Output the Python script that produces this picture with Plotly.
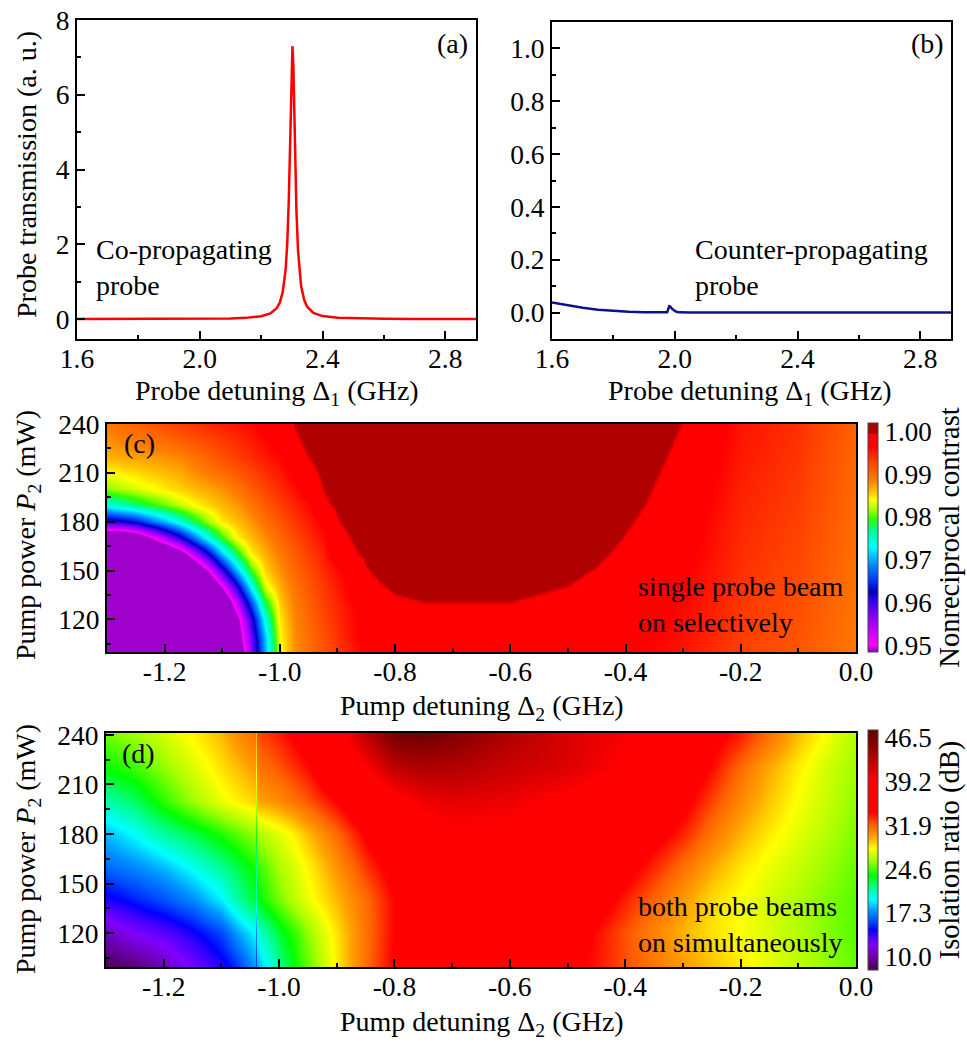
import plotly.graph_objects as go

W, H = 967, 1044
FONT = "'Liberation Serif', 'Times New Roman', Times, serif"

# ---------------- panel (a): co-propagating probe ----------------
a_x = [1.6, 1.7, 1.8, 1.9, 2.0, 2.1, 2.15, 2.2, 2.23, 2.25, 2.26, 2.27, 2.28, 2.285, 2.29,
       2.295, 2.3, 2.302, 2.305, 2.31, 2.315, 2.32, 2.33, 2.34, 2.35, 2.37, 2.4, 2.45, 2.5,
       2.6, 2.7, 2.8, 2.9]
a_y = [0.002, 0.003, 0.004, 0.006, 0.009, 0.02, 0.035, 0.077, 0.152, 0.286, 0.429, 0.709,
       1.354, 2.016, 3.166, 5.055, 7.046, 7.3, 6.75, 4.62, 2.88, 1.853, 0.9, 0.518, 0.333,
       0.17, 0.083, 0.037, 0.021, 0.009, 0.005, 0.003, 0.002]

# ---------------- panel (b): counter-propagating probe ----------------
b_x = [1.6, 1.65, 1.7, 1.75, 1.8, 1.85, 1.9, 1.95, 1.975, 1.982, 1.986, 1.99, 1.995, 2.0,
       2.008, 2.016, 2.05, 2.2, 2.5, 2.9]
b_y = [0.038, 0.027, 0.018, 0.011, 0.006, 0.003, 0.0015, 0.001, 0.001, 0.024, 0.022, 0.016,
       0.010, 0.006, 0.002, 0.0008, 0.0005, 0.0003, 0.0002, 0.0001]

# ---------------- panel (c): nonreciprocal contrast ----------------
c_det = [-1.3, -1.275, -1.25, -1.225, -1.2, -1.175, -1.15, -1.125, -1.1, -1.075, -1.05, -1.025,
         -1.0, -0.975, -0.95, -0.925, -0.9, -0.85, -0.8, -0.75, -0.7, -0.6, -0.5, -0.45, -0.4,
         -0.35, -0.3, -0.2, -0.1, 0.0]
c_pow = [100, 110, 120, 130, 140, 150, 160, 170, 180, 190, 200, 220, 240]
c_contrast = [
    [.940, .940, .940, .940, .940, .940, .940, .940, .940, .943, .9562, .9701, .9835, .9877, .9897,
     .9916, .9934, .9967, .9975, .9975, .9975, .9975, .9975, .9975, .9970, .9962, .9955, .9930, .9915, .9890],
    [.940, .940, .940, .940, .940, .940, .940, .940, .940, .94556, .95771, .97112, .98408, .98787, .98995,
     .99196, .99379, .9975, .9975, .9975, .9975, .9975, .9975, .9975, .997, .99661, .99578, .99318, .99168, .98911],
    [.940, .940, .940, .940, .940, .940, .940, .940, .940, .9477, .9605, .9740, .9847, .9882, .9903,
     .9924, .9942, .9975, .9985, .99882, .99882, .99882, .99814, .9975, .9975, .9970, .9959, .9934, .9919, .9892],
    [.940, .940, .940, .940, .940, .940, .940, .940, .9411, .9534, .96595, .97815, .9856, .9886, .99077,
     .99294, .99463, .99798, .99914, .99947, .99947, .99947, .9988, .99802, .9975, .99744, .99634, .99354, .99204, .98932],
    [.940, .940, .940, .940, .940, .940, .940, .940, .9496, .9611, .9731, .9830, .9867, .9892, .9914,
     .9934, .9951, .99888, .99979, 1.00012, 1.00012, 1.00012, .99945, .99866, .9975, .9975, .99661, .99371, .99221, .98943],
    [.940, .940, .940, .940, .940, .940, .940, .94942, .95977, .9704, .97938, .9852, .98785, .99008, .99227,
     .99412, .9958, .99934, 1.00044, 1.00077, 1.00077, 1.00077, 1.0001, .99931, .99814, .9975, .99689, .99389, .99239, .98954],
    [.940, .940, .940, .940, .940, .94454, .95315, .96176, .97085, .97831, .9844, .98667, .9889, .99104, .99315,
     .99482, .99866, .9998, 1.00094, 1.00142, 1.00142, 1.00142, 1.00074, .99996, .99886, .9977, .99717, .99407, .99257, .98964],
    [.940, .940, .94286, .9487, .95456, .96041, .96706, .97379, .97919, .98421, .98612, .98803, .99014, .99225, .99408,
     .99575, .9989, 1.00017, 1.0013, 1.0015, 1.0015, 1.0015, 1.00138, 1.0005, .99936, .99822, .99745, .99425, .99275, .98975],
    [.960, .96117, .96303, .9666, .97019, .97382, .97763, .98143, .98451, .98605, .9876, .98949, .99152, .99344, .99506,
     .99698, .99938, 1.00054, 1.0015, 1.0015, 1.0015, 1.0015, 1.0015, 1.00094, .9998, .99866, .9975, .99443, .99293, .98986],
    [.974, .97567, .97733, .97899, .98065, .98232, .98398, .98517, .98636, .98755, .9892, .99113, .99305, .99458, .9961,
     .99918, .99975, 1.0009, 1.0015, 1.0015, 1.0015, 1.0015, 1.0015, 1.00142, 1.00026, .99911, .99796, .99461, .99311, .98996],
    [.9812, .98206, .98292, .98378, .98459, .98539, .98619, .98698, .98778, .98928, .99102, .99277, .99425, .99569, .99838,
     .9995, 1.00008, 1.00122, 1.0015, 1.0015, 1.0015, 1.0015, 1.0015, 1.0015, 1.00058, .99943, .99828, .99479, .99329, .99007],
    [.9866, .9869, .9872, .9875, .9878, .9882, .9894, .9907, .9919, .9931, .9942, .9952, .99631, .99895, .99952,
     1.0001, 1.00066, 1.0015, 1.0015, 1.0015, 1.0015, 1.0015, 1.0015, 1.0015, 1.00118, 1.00003, .99884, .99514, .99364, .99029],
    [.989, .98985, .99069, .99154, .99238, .99316, .99373, .99431, .99489, .99547, .99605, .99743, .99895, .99952, 1.0001,
     1.00066, 1.00126, 1.0015, 1.0015, 1.0015, 1.0015, 1.0015, 1.0015, 1.0015, 1.0015, 1.00058, .99943, .9955, .9940, .9905],
]
c_cbar_ticks = [0.95, 0.96, 0.97, 0.98, 0.99, 1.00]
c_cbar_text = ["0.95", "0.96", "0.97", "0.98", "0.99", "1.00"]

# ---------------- panel (d): isolation ratio ----------------
d_det = [-1.3, -1.25, -1.2, -1.15, -1.1, -1.075, -1.042, -1.04, -1.038, -1.0, -0.975, -0.95, -0.9,
         -0.85, -0.8, -0.75, -0.7, -0.6, -0.5, -0.45, -0.4, -0.35, -0.3, -0.25, -0.2, -0.15, -0.1,
         -0.05, 0.0]
d_pow = [100, 120, 140, 160, 180, 200, 220, 240]
d_isolation = [
    [8.0, 9.0, 10.4, 12.3, 13.9, 15.3, 17.7, 15.5, 18.1, 21.3, 23.5, 25.0, 28.4, 31.6, 34.2, 35.5, 36.3,
     36.5, 34.6, 33.6, 32.4, 31.3, 30.2, 29.3, 28.4, 27.5, 26.6, 25.8, 25.0],
    [10.5, 12.0, 12.9, 14.2, 15.8, 17.6, 19.5, 17.2, 19.9, 22.8, 24.2, 25.8, 28.6, 31.5, 34.0, 35.6, 36.6,
     37.0, 35.4, 33.8, 32.3, 30.9, 29.6, 28.6, 27.9, 27.2, 26.4, 25.6, 24.8],
    [14.0, 15.0, 16.0, 17.3, 19.2, 21.0, 22.8, 20.5, 23.2, 25.3, 26.6, 27.6, 29.5, 31.6, 34.0, 35.8, 37.0,
     37.6, 36.5, 35.0, 33.4, 31.8, 30.2, 28.7, 27.9, 27.1, 26.3, 25.5, 24.8],
    [16.6, 17.3, 18.3, 19.8, 21.4, 22.4, 23.8, 21.5, 24.2, 26.2, 27.2, 28.2, 30.4, 32.9, 34.8, 36.5, 38.0,
     38.5, 37.3, 36.0, 34.8, 33.2, 31.5, 29.8, 28.5, 27.6, 26.8, 25.9, 25.1],
    [18.3, 19.6, 21.2, 22.5, 23.9, 24.8, 25.8, 23.5, 26.3, 27.3, 28.3, 29.4, 31.7, 34.3, 36.3, 38.0, 39.2,
     39.0, 37.8, 36.8, 35.8, 34.8, 33.3, 31.3, 29.6, 28.4, 27.4, 26.4, 25.4],
    [21.0, 22.2, 24.2, 26.0, 27.6, 28.2, 28.9, 26.8, 29.8, 30.6, 31.4, 32.2, 34.1, 36.3, 38.5, 40.3, 40.8,
     40.3, 39.0, 38.0, 37.0, 36.0, 34.6, 32.6, 30.7, 29.2, 27.9, 26.8, 25.7],
    [23.5, 24.4, 25.8, 27.2, 28.6, 29.3, 30.2, 28.2, 31.2, 32.2, 33.0, 33.8, 36.5, 39.5, 42.5, 43.3, 43.2,
     42.0, 41.0, 40.2, 39.2, 37.6, 35.6, 33.8, 31.6, 29.8, 28.3, 27.0, 26.0],
    [25.2, 26.0, 27.0, 28.2, 29.4, 30.5, 31.5, 29.5, 32.4, 33.4, 34.2, 35.0, 38.5, 42.5, 46.3, 46.8, 45.8,
     43.2, 41.3, 40.6, 39.8, 38.6, 36.6, 34.7, 33.4, 31.5, 29.4, 27.8, 26.2],
]
d_cbar_ticks = [10.0, 17.3, 24.6, 31.9, 39.2, 46.5]
d_cbar_text = ["10.0", "17.3", "24.6", "31.9", "39.2", "46.5"]

# tick labels
a_xticks = [1.6, 2.0, 2.4, 2.8]
a_xtext = ["1.6", "2.0", "2.4", "2.8"]
a_yticks = [0, 2, 4, 6, 8]
a_ytext = ["0", "2", "4", "6", "8"]
b_yticks = [0.0, 0.2, 0.4, 0.6, 0.8, 1.0]
b_ytext = ["0.0", "0.2", "0.4", "0.6", "0.8", "1.0"]
p_ticks = [120, 150, 180, 210, 240]
p_text = ["120", "150", "180", "210", "240"]
det_ticks = [-1.2, -1.0, -0.8, -0.6, -0.4, -0.2, 0.0]
det_text = ["-1.2", "-1.0", "-0.8", "-0.6", "-0.4", "-0.2", "0.0"]

# ---------------- styles ----------------
c_min, c_max = 0.9484, 1.0020
c_scale_v = [0.9484, 0.9489, 0.9500, 0.9530, 0.9570, 0.9605, 0.9625, 0.9650, 0.9690, 0.9730, 0.9770,
             0.9795, 0.9820, 0.9840, 0.9860, 0.9885, 0.9930, 0.9965, 0.9994, 0.9996, 1.0020]
c_scale_c = ['#A000CC', '#A000CC', '#FF00FF', '#D000FF', '#8000FF', '#3000F0', '#0000B8', '#0030FF',
             '#0090FF', '#00FFFF', '#00FF90', '#30FF00', '#B0FF00', '#FFFF00', '#FFC000', '#FF8000',
             '#FF4000', '#FF0000', '#FF0000', '#B00000', '#B00000']
d_min, d_max = 7.8, 47.8
d_scale_v = [7.8, 9.0, 10.5, 12.0, 13.5, 14.5, 16.0, 17.5, 19.5, 21.5, 23.5, 26.0, 28.0, 30.0, 32.0,
             34.0, 39.5, 42.5, 45.0, 47.8]
d_scale_c = ['#4C0050', '#5C0080', '#7000C0', '#8000FF', '#4000FF', '#0000FF', '#0050FF', '#0090FF',
             '#00FFFF', '#00FF90', '#00FF00', '#A0FF00', '#FFFF00', '#FFA000', '#FF6000', '#FF0000',
             '#FF0000', '#C00000', '#900000', '#600000']

TICK_SIZE = 27.5
TITLE_SIZE = 28
NOTE_SIZE = 28
CB_TICK_SIZE = 27
CB_TITLE_SIZE = 28.5


def scale(vals, cols, lo, hi):
    return [[(v - lo) / (hi - lo), c] for v, c in zip(vals, cols)]


def px_x(p):
    return p / W


def px_y(p):
    return 1 - p / H


TICKFONT = dict(family=FONT, size=TICK_SIZE, color="black")


def axis(domain, rng, tickvals, ticktext, minor_vals, anchor, standoff=0):
    return dict(domain=domain, range=rng, anchor=anchor, showline=True, linecolor="black",
                linewidth=2, mirror=True, ticks="inside", ticklen=8, tickwidth=2,
                tickcolor="black", showgrid=False, zeroline=False, tickfont=TICKFONT,
                automargin=False, tickmode="array", tickvals=tickvals, ticktext=ticktext,
                ticklabelstandoff=standoff,
                minor=dict(ticks="inside", ticklen=4, tickwidth=2, tickcolor="black",
                           tickmode="array", tickvals=minor_vals, showgrid=False))


fig = go.Figure()

fig.add_trace(go.Scatter(x=a_x, y=a_y, mode="lines", line=dict(color="#FF0000", width=2.5),
                         xaxis="x", yaxis="y", showlegend=False))
fig.add_trace(go.Scatter(x=b_x, y=b_y, mode="lines", line=dict(color="#10108C", width=2.5),
                         xaxis="x2", yaxis="y2", showlegend=False))

CB_FONT = dict(family=FONT, size=CB_TICK_SIZE, color="black")
CB_TFONT = dict(family=FONT, size=CB_TITLE_SIZE, color="black")
CB_X = 868

fig.add_trace(go.Heatmap(
    x=c_det, y=c_pow, z=c_contrast, zsmooth="best", zmin=c_min, zmax=c_max,
    colorscale=scale(c_scale_v, c_scale_c, c_min, c_max), xaxis="x3", yaxis="y3",
    colorbar=dict(x=px_x(CB_X), xanchor="left", xpad=0, ypad=0, y=px_y((423 + 652) / 2),
                  yanchor="middle", len=229 / H, lenmode="fraction", thickness=10,
                  outlinewidth=1, outlinecolor="#444", tickmode="array", tickvals=c_cbar_ticks,
                  ticktext=c_cbar_text, ticks="", tickfont=CB_FONT,
                  title=dict(text="Nonreciprocal contrast", side="right", font=CB_TFONT)),
))
fig.add_trace(go.Heatmap(
    x=d_det, y=d_pow, z=d_isolation, zsmooth="best", zmin=d_min, zmax=d_max,
    colorscale=scale(d_scale_v, d_scale_c, d_min, d_max), xaxis="x4", yaxis="y4",
    colorbar=dict(x=px_x(CB_X), xanchor="left", xpad=0, ypad=0, y=px_y((730 + 970) / 2),
                  yanchor="middle", len=240 / H, lenmode="fraction", thickness=10,
                  outlinewidth=1, outlinecolor="#444", tickmode="array", tickvals=d_cbar_ticks,
                  ticktext=d_cbar_text, ticks="", tickfont=CB_FONT,
                  title=dict(text="Isolation ratio (dB)", side="right", font=CB_TFONT)),
))

XSO = -6
layout = dict(
    width=W, height=H, margin=dict(l=0, r=0, t=0, b=0, pad=0, autoexpand=False),
    paper_bgcolor="white", plot_bgcolor="white", showlegend=False,
    font=dict(family=FONT, color="black"),
    xaxis=axis([px_x(77), px_x(476)], [1.6, 2.9], a_xticks, a_xtext, [1.8, 2.2, 2.6], "y", XSO),
    yaxis=axis([px_y(339), px_y(20)], [-0.53, 8.0], a_yticks, a_ytext, [1, 3, 5, 7], "x"),
    xaxis2=axis([px_x(552), px_x(951)], [1.6, 2.9], a_xticks, a_xtext, [1.8, 2.2, 2.6], "y2", XSO),
    yaxis2=axis([px_y(339), px_y(22)], [-0.1, 1.1], b_yticks, b_ytext,
                [-0.1, 0.1, 0.3, 0.5, 0.7, 0.9], "x2"),
    xaxis3=axis([px_x(107), px_x(856)], [-1.3, 0.0], det_ticks, det_text,
                [-1.1, -0.9, -0.7, -0.5, -0.3, -0.1], "y3", XSO),
    yaxis3=axis([px_y(652), px_y(424)], [100, 240], p_ticks, p_text,
                [105, 135, 165, 195, 225], "x3"),
    xaxis4=axis([px_x(106), px_x(856)], [-1.3, 0.0], det_ticks, det_text,
                [-1.1, -0.9, -0.7, -0.5, -0.3, -0.1], "y4", XSO),
    yaxis4=axis([px_y(967), px_y(733)], [99.4, 241.2], p_ticks, p_text,
                [105, 135, 165, 195, 225], "x4"),
)
fig.update_layout(**layout)


def ann(text, x, y, size=TITLE_SIZE, xanchor="center", yanchor="middle", angle=0, align="center"):
    fig.add_annotation(text=text, x=px_x(x), y=px_y(y), xref="paper", yref="paper",
                       xanchor=xanchor, yanchor=yanchor, textangle=angle, showarrow=False,
                       align=align, font=dict(family=FONT, size=size, color="black"))


# axis titles
ann("Probe detuning Δ<sub>1</sub> (GHz)", 277, 393)
ann("Probe transmission (a. u.)", 27, 175, angle=-90)
ann("Probe detuning Δ<sub>1</sub> (GHz)", 750, 393)
ann("Pump detuning Δ<sub>2</sub> (GHz)", 482, 707)
ann("Pump power <i>P</i><sub>2</sub> (mW)", 27, 535, angle=-90)
ann("Pump detuning Δ<sub>2</sub> (GHz)", 482, 1023)
ann("Pump power <i>P</i><sub>2</sub> (mW)", 27, 849, angle=-90)

# panel labels and notes
ann("(a)", 452, 43, size=NOTE_SIZE)
ann("(b)", 927, 43, size=NOTE_SIZE)
ann("(c)", 122, 443, size=NOTE_SIZE, xanchor="left")
ann("(d)", 120, 753, size=NOTE_SIZE, xanchor="left")
ann("Co-propagating<br>probe", 94, 268, size=NOTE_SIZE, xanchor="left", align="left")
ann("Counter-propagating<br>probe", 693, 267, size=NOTE_SIZE, xanchor="left", align="left")
ann("single probe beam<br>on selectively", 636, 604, size=NOTE_SIZE, xanchor="left", align="left")
ann("both probe beams<br>on simultaneously", 636, 924, size=NOTE_SIZE, xanchor="left", align="left")

fig.write_html("out.html")
